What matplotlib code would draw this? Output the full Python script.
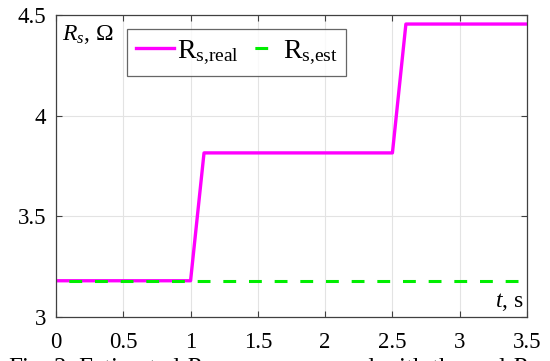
import matplotlib
matplotlib.use('Agg')
import matplotlib.pyplot as plt

plt.rcParams['font.family'] = ['Liberation Serif', 'DejaVu Serif']
plt.rcParams['mathtext.fontset'] = 'custom'
plt.rcParams['mathtext.rm'] = 'Liberation Serif'
plt.rcParams['mathtext.it'] = 'Liberation Serif:italic'

# Данные
t_real = [0, 1.0, 1.1, 2.5, 2.6, 3.5]
rs_real = [3.18, 3.18, 3.815, 3.815, 4.455, 4.455]
t_est = [0, 3.5]
rs_est = [3.18, 3.18]

x_ticks = [0, 0.5, 1, 1.5, 2, 2.5, 3, 3.5]
x_tick_labels = ['0', '0.5', '1', '1.5', '2', '2.5', '3', '3.5']
y_ticks = [3, 3.5, 4, 4.5]
y_tick_labels = ['3', '3.5', '4', '4.5']

fig = plt.figure(figsize=(5.5, 3.61), dpi=100)
ax = fig.add_axes([0.1018, 0.1219, 0.8564, 0.8366])

ax.plot(t_real, rs_real, color='#ff00ff', lw=2.4,
        label=r'R$_{\mathrm{s{,}real}}$')
ax.plot(t_est, rs_est, color='#00ee00', lw=2.2, ls=(4.2, (4.2, 4.2)),
        label=r'R$_{\mathrm{s{,}est}}$')

ax.set_xlim(0, 3.5)
ax.set_ylim(3, 4.5)
ax.set_xticks(x_ticks)
ax.set_xticklabels(x_tick_labels)
ax.set_yticks(y_ticks)
ax.set_yticklabels(y_tick_labels)

ax.grid(True, color='#e3e3e3', lw=0.8)
ax.set_axisbelow(True)
ax.tick_params(direction='in', top=True, right=True, labelsize=16.5,
               length=4, color='#404040')
ax.tick_params(axis='x', pad=11)
ax.tick_params(axis='y', pad=7)
for s in ax.spines.values():
    s.set_color('#404040')
    s.set_linewidth(0.9)

ax.text(0.012, 0.975, r'$R_s$, $\Omega$', transform=ax.transAxes,
        fontsize=17, ha='left', va='top')
ax.text(0.993, 0.012, r'$t$, s', transform=ax.transAxes,
        fontsize=17, ha='right', va='bottom')

leg = ax.legend(loc='upper left', bbox_to_anchor=(0.151, 0.952), ncol=2,
                fontsize=20, handlelength=1.35, handletextpad=0.12,
                columnspacing=0.1, borderpad=0.33, borderaxespad=0,
                frameon=True, fancybox=False)
leg.get_frame().set_edgecolor('#404040')
leg.get_frame().set_linewidth(0.9)

fig.text(0.015, -0.04, r'Fig. 3. Estimated $R_s$ curve compared with the real $R_s$',
         fontsize=18, ha='left', va='baseline')

fig.savefig('out.png', dpi=100)
